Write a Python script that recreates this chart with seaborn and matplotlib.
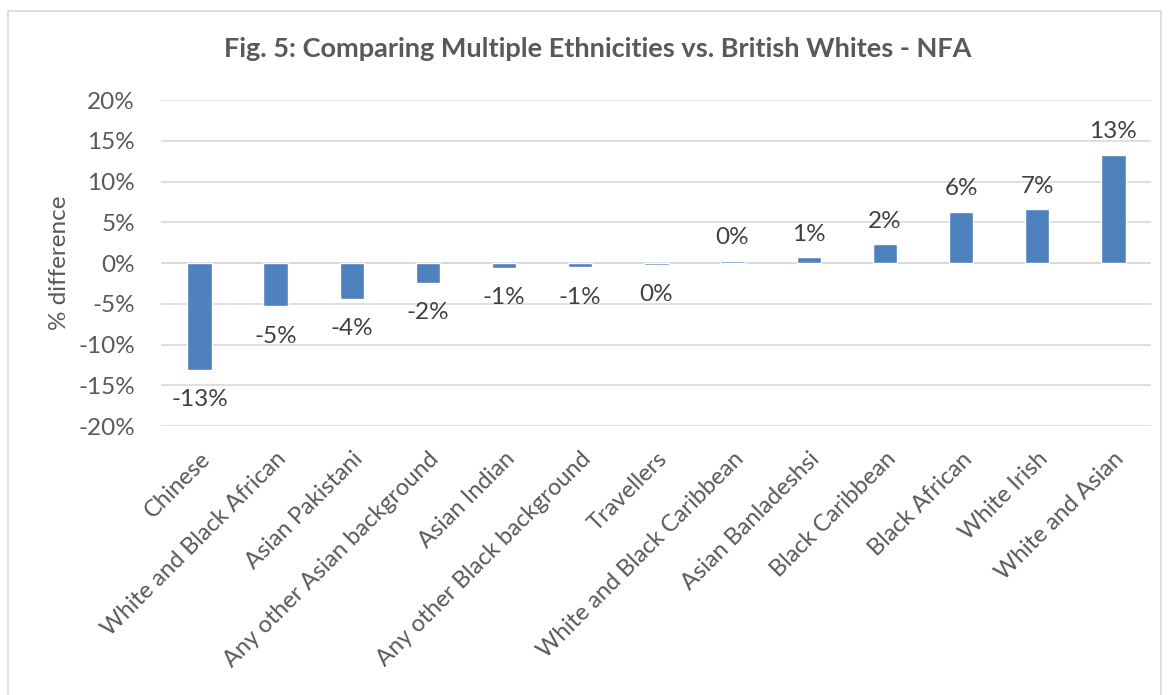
import numpy as np
import pandas as pd
import matplotlib
matplotlib.use('Agg')
import matplotlib.pyplot as plt
import seaborn as sns
from matplotlib.patches import Rectangle
from matplotlib.ticker import FuncFormatter


ethnicities = ['Chinese', 'White and Black African', 'Asian Pakistani',
               'Any other Asian background', 'Asian Indian',
               'Any other Black background', 'Travellers',
               'White and Black Caribbean', 'Asian Banladeshsi',
               'Black Caribbean', 'Black African', 'White Irish',
               'White and Asian']
pct_diff = [-13.1, -5.3, -4.4, -2.4, -0.6, -0.5, -0.2, 0.3, 0.7, 2.3, 6.3, 6.6, 13.3]
bar_labels = ['-13%', '-5%', '-4%', '-2%', '-1%', '-1%', '0%', '0%', '1%', '2%', '6%', '7%', '13%']

df = pd.DataFrame({'ethnicity': ethnicities, 'diff': pct_diff})

sns.set_style('white')
plt.rcParams['font.family'] = ['Lato', 'DejaVu Sans']

fig = plt.figure(figsize=(11.69, 6.95), dpi=100)
ax = fig.add_axes([0.138, 0.387, 0.847, 0.469])

sns.barplot(data=df, x='ethnicity', y='diff', color='#4F81BD', width=0.32,
            saturation=1, ax=ax, zorder=3)

# etiquetas: positivas arriba, negativas abajo (distinto margen como en Excel)
cont = ax.containers[0]
lab_pos = [l if v >= 0 else '' for l, v in zip(bar_labels, pct_diff)]
lab_neg = [l if v < 0 else '' for l, v in zip(bar_labels, pct_diff)]
ax.bar_label(cont, labels=lab_pos, padding=9, fontsize=17.5, color='#404040')
ax.bar_label(cont, labels=lab_neg, padding=14, fontsize=17.5, color='#404040')

ax.set_ylim(-20, 20)
ax.set_yticks(np.arange(-20, 21, 5))
ax.yaxis.set_major_formatter(FuncFormatter(lambda v, p: f'{v:.0f}%'))
ax.grid(axis='y', color='#D9D9D9', linewidth=1.2, zorder=0)
ax.axhline(0, color='#D9D9D9', linewidth=1.2, zorder=1)
for s in ax.spines.values():
    s.set_visible(False)

ax.tick_params(axis='both', length=0, labelsize=17.5, labelcolor='#595959')
ax.tick_params(axis='y', pad=19)
ax.tick_params(axis='x', pad=16, labelsize=17)
plt.setp(ax.get_xticklabels(), rotation=45, ha='right', rotation_mode='anchor')
ax.set_xlabel('')
ax.set_ylabel('% difference', fontsize=17.5, color='#595959', labelpad=6)
ax.set_xlim(-0.5, len(ethnicities) - 0.5)

fig.suptitle('Fig. 5: Comparing Multiple Ethnicities vs. British Whites - NFA',
             x=0.511, y=0.947, fontsize=19.5, fontweight='bold', color='#595959')

fig.patches.append(Rectangle((0.007, -0.01), 0.986, 0.994, transform=fig.transFigure,
                             fill=False, edgecolor='#D9D9D9', linewidth=1.2))

fig.savefig('out.png', dpi=100)
